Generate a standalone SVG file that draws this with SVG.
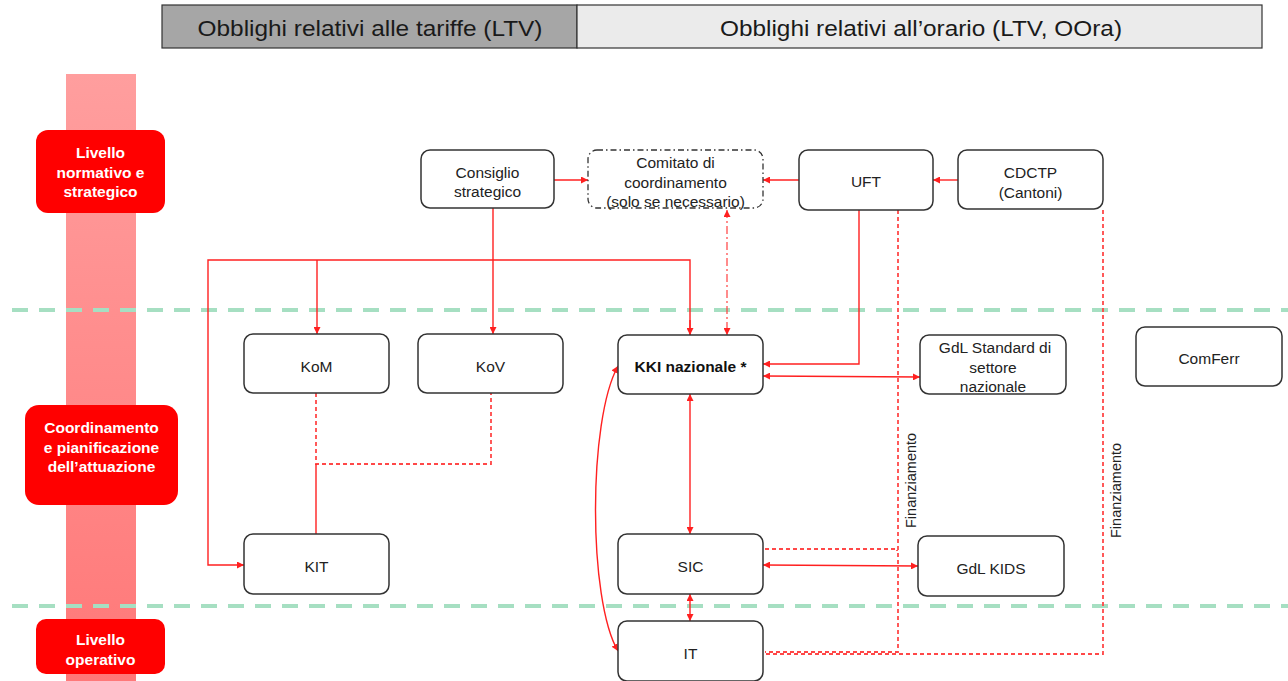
<svg xmlns="http://www.w3.org/2000/svg" width="1288" height="681" viewBox="0 0 1288 681">
<style>
text{font-family:"Liberation Sans",Arial,sans-serif;fill:#222}
.hdr{font-size:22px;text-anchor:middle;fill:#1a1a1a}
.lvl{fill:#FF0000}
.lvlt{font-size:15.5px;font-weight:bold;fill:#fff;text-anchor:middle}
.node{fill:#fff;stroke:#333;stroke-width:1.5}
.nt{font-size:15.5px;text-anchor:middle}
.grid{stroke:#A6DFC2;stroke-width:4;stroke-dasharray:16 11;fill:none}
.c{stroke:#FF2020;stroke-width:1.4;fill:none}
.d{stroke:#FF4848;stroke-width:1.8;fill:none;stroke-dasharray:4 3}
.dd{stroke:#FF4040;stroke-width:1.2;fill:none;stroke-dasharray:8 3 2 3}
.fin{font-size:14.5px}
</style>
<defs>
<linearGradient id="band" x1="0" y1="0" x2="0" y2="1">
<stop offset="0" stop-color="#FF9E9E"/>
<stop offset="1" stop-color="#FF7878"/>
</linearGradient>
<marker id="ae" viewBox="0 0 10 10" refX="10" refY="5" markerWidth="7" markerHeight="7" markerUnits="userSpaceOnUse" orient="auto">
<path d="M0,0 L10,5 L0,10 z" fill="#FF2020"/>
</marker>
<marker id="as" viewBox="0 0 10 10" refX="0" refY="5" markerWidth="7" markerHeight="7" markerUnits="userSpaceOnUse" orient="auto">
<path d="M10,0 L0,5 L10,10 z" fill="#FF2020"/>
</marker>
</defs>
<rect width="1288" height="681" fill="#fff"/>

<g id="header">
<rect x="162" y="5" width="415" height="43" fill="#A6A6A6" stroke="#333" stroke-width="1.2"/>
<text class="hdr" x="370" y="36" textLength="345" lengthAdjust="spacingAndGlyphs">Obblighi relativi alle tariffe (LTV)</text>
<rect x="577" y="5" width="685" height="43" fill="#EBEBEB" stroke="#333" stroke-width="1.2"/>
<text class="hdr" x="921" y="36" textLength="402" lengthAdjust="spacingAndGlyphs">Obblighi relativi all’orario (LTV, OOra)</text>
</g>

<rect id="band-bar" x="66" y="74" width="70" height="607" fill="url(#band)"/>

<g id="gridlines">
<line class="grid" x1="12" y1="310" x2="1288" y2="310"/>
<line class="grid" x1="12" y1="606" x2="1288" y2="606"/>
</g>

<g id="lvl-normativo">
<rect class="lvl" x="36" y="130" width="129" height="83" rx="12"/>
<text class="lvlt" x="100.5" y="158">Livello</text>
<text class="lvlt" x="100.5" y="178">normativo e</text>
<text class="lvlt" x="100.5" y="197">strategico</text>
</g>
<g id="lvl-coord">
<rect class="lvl" x="25" y="405" width="153" height="100" rx="14"/>
<text class="lvlt" x="101.5" y="433">Coordinamento</text>
<text class="lvlt" x="101.5" y="453">e pianificazione</text>
<text class="lvlt" x="101.5" y="472">dell’attuazione</text>
</g>
<g id="lvl-operativo">
<rect class="lvl" x="36" y="619" width="129" height="55" rx="10"/>
<text class="lvlt" x="100.5" y="645">Livello</text>
<text class="lvlt" x="100.5" y="665">operativo</text>
</g>

<g id="connectors">
<line class="c" x1="554" y1="180" x2="588" y2="180" marker-end="url(#ae)"/>
<line class="c" x1="799" y1="180" x2="763" y2="180" marker-end="url(#ae)"/>
<line class="c" x1="958" y1="180" x2="933" y2="180" marker-end="url(#ae)"/>
<line class="c" x1="493" y1="208" x2="493" y2="334" marker-end="url(#ae)"/>
<polyline class="c" points="690,335 690,260 208,260 208,565 244,565" marker-end="url(#ae)"/>
<line class="c" x1="690" y1="320" x2="690" y2="335" marker-end="url(#ae)"/>
<line class="c" x1="317" y1="260" x2="317" y2="334" marker-end="url(#ae)"/>
<line class="dd" x1="727" y1="210" x2="727" y2="335" marker-start="url(#as)" marker-end="url(#ae)"/>
<polyline class="c" points="859,210 859,364 763,364" marker-end="url(#ae)"/>
<line class="c" x1="763" y1="376" x2="920" y2="377" marker-start="url(#as)" marker-end="url(#ae)"/>
<line class="c" x1="690" y1="394" x2="690" y2="534" marker-start="url(#as)" marker-end="url(#ae)"/>
<path class="c" d="M618,366 C588,420 588,600 618,651" marker-start="url(#as)" marker-end="url(#ae)"/>
<line class="c" x1="763" y1="565" x2="918" y2="566" marker-start="url(#as)" marker-end="url(#ae)"/>
<line class="c" x1="690" y1="594" x2="690" y2="621" marker-start="url(#as)" marker-end="url(#ae)"/>
<polyline class="d" points="316,393 316,464 491,464 491,393"/>
<line class="c" x1="316" y1="464" x2="316" y2="534"/>
<polyline class="d" points="898,210 898,652 765,652"/>
<polyline class="d" points="765,549 897,549 897,551"/>
<polyline class="d" points="1103,210 1103,654 765,654"/>
<text class="fin" transform="translate(916,528) rotate(-90)">Finanziamento</text>
<text class="fin" transform="translate(1121,538) rotate(-90)">Finanziamento</text>
</g>

<g id="n-consiglio">
<rect class="node" x="421" y="150" width="133" height="58" rx="9"/>
<text class="nt" x="487.5" y="178">Consiglio</text>
<text class="nt" x="487.5" y="197">strategico</text>
</g>
<g id="n-comitato">
<rect x="588" y="150" width="175" height="58" rx="9" fill="#fff" stroke="#333" stroke-width="1.3" stroke-dasharray="6 3 1.5 3"/>
<text class="nt" x="675.5" y="168">Comitato di</text>
<text class="nt" x="675.5" y="188">coordinamento</text>
<text class="nt" x="675.5" y="207">(solo se necessario)</text>
</g>
<g id="n-uft">
<rect class="node" x="799" y="150" width="134" height="60" rx="9"/>
<text class="nt" x="866" y="187">UFT</text>
</g>
<g id="n-cdctp">
<rect class="node" x="958" y="150" width="145" height="59" rx="9"/>
<text class="nt" x="1030.5" y="178">CDCTP</text>
<text class="nt" x="1030.5" y="198">(Cantoni)</text>
</g>
<g id="n-kom">
<rect class="node" x="244" y="334" width="145" height="59" rx="9"/>
<text class="nt" x="316.5" y="372">KoM</text>
</g>
<g id="n-kov">
<rect class="node" x="418" y="334" width="145" height="59" rx="9"/>
<text class="nt" x="490.5" y="372">KoV</text>
</g>
<g id="n-kki">
<rect class="node" x="618" y="335" width="145" height="59" rx="9"/>
<text class="nt" x="690.5" y="372" style="font-weight:bold;fill:#111">KKI nazionale *</text>
</g>
<g id="n-gdl-std">
<rect class="node" x="920" y="335" width="146" height="59" rx="9"/>
<text class="nt" x="995" y="353">GdL Standard di</text>
<text class="nt" x="993" y="373">settore</text>
<text class="nt" x="993" y="392">nazionale</text>
</g>
<g id="n-comferr">
<rect class="node" x="1136" y="327" width="146" height="59" rx="9"/>
<text class="nt" x="1209" y="364">ComFerr</text>
</g>
<g id="n-kit">
<rect class="node" x="244" y="534" width="145" height="60" rx="9"/>
<text class="nt" x="316.5" y="572">KIT</text>
</g>
<g id="n-sic">
<rect class="node" x="618" y="534" width="145" height="60" rx="9"/>
<text class="nt" x="690.5" y="572">SIC</text>
</g>
<g id="n-gdl-kids">
<rect class="node" x="918" y="536" width="146" height="60" rx="9"/>
<text class="nt" x="991" y="574">GdL KIDS</text>
</g>
<g id="n-it">
<rect class="node" x="618" y="621" width="145" height="60" rx="9"/>
<text class="nt" x="690.5" y="659">IT</text>
</g>
</svg>
